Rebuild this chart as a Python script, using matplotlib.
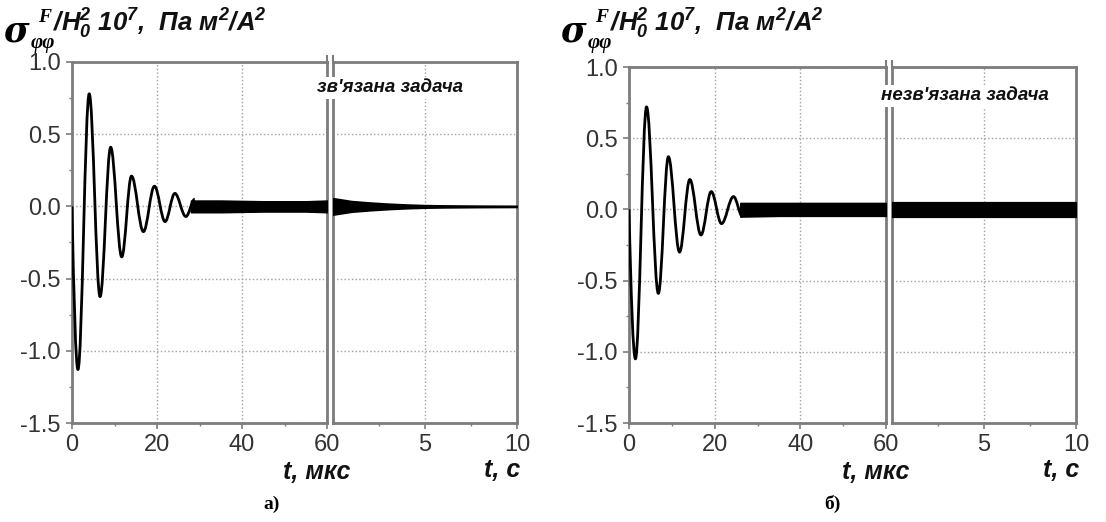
import matplotlib
matplotlib.use("Agg")
import matplotlib.pyplot as plt
from matplotlib.ticker import MultipleLocator, FixedLocator
from matplotlib.lines import Line2D
from matplotlib.path import Path
from matplotlib.patches import PathPatch

W, H = 1106, 522
plt.rcParams['font.family'] = ['Liberation Sans', 'DejaVu Sans']
plt.rcParams['axes.unicode_minus'] = False
plt.rcParams['mathtext.fontset'] = 'custom'
plt.rcParams['mathtext.rm'] = 'Liberation Sans:bold:italic'
plt.rcParams['mathtext.it'] = 'Liberation Sans:bold:italic'
plt.rcParams['mathtext.bf'] = 'Liberation Sans:bold:italic'

# ---------------- data ----------------
# panel a (coupled problem): extrema of the main oscillation, t in microseconds
t_us_a = [0.0, 1.4, 4.05, 6.6, 9.1, 11.7, 14.0, 16.8, 19.4, 21.9, 24.2, 26.8, 28.9]
v_us_a = [0.0, -1.13, 0.78, -0.625, 0.41, -0.35, 0.21, -0.175, 0.14, -0.105, 0.09, -0.07, 0.05]
# high-frequency band envelope after the decay (microseconds)
t_band_a = [28.0, 35.0, 45.0, 55.0, 60.0]
up_band_a = [0.04, 0.04, 0.035, 0.035, 0.04]
lo_band_a = [-0.04, -0.04, -0.035, -0.035, -0.04]
# long-time envelope, t in seconds
t_s_a = [0.0, 0.5, 1.0, 2.0, 3.0, 4.0, 5.0, 6.0, 8.0, 10.0]
up_s_a = [0.055, 0.045, 0.035, 0.025, 0.017, 0.011, 0.007, 0.005, 0.003, 0.002]
lo_s_a = [-0.055, -0.045, -0.035, -0.025, -0.017, -0.011, -0.007, -0.005, -0.003, -0.002]

# panel b (uncoupled problem)
t_us_b = [0.0, 1.5, 4.1, 6.85, 9.2, 11.8, 14.2, 16.8, 19.2, 21.6, 24.4, 26.5]
v_us_b = [0.0, -1.05, 0.72, -0.59, 0.37, -0.30, 0.21, -0.18, 0.125, -0.10, 0.09, -0.05]
t_band_b = [26.0, 35.0, 45.0, 55.0, 60.0]
up_band_b = [0.045, 0.045, 0.045, 0.045, 0.045]
lo_band_b = [-0.05, -0.045, -0.045, -0.045, -0.045]
t_s_b = [0.0, 10.0]
up_s_b = [0.045, 0.045]
lo_s_b = [-0.05, -0.05]

# axis ticks / labels
x_us_ticks = [0, 20, 40, 60]
x_s_ticks = [5, 10]
y_ticks = [-1.5, -1.0, -0.5, 0.0, 0.5, 1.0]
y_ticklabels = ['-1.5', '-1.0', '-0.5', '0.0', '0.5', '1.0']
notes = ["зв'язана задача", "незв'язана задача"]
panel_tags = ['а)', 'б)']
xlab_us = 't, мкс'
xlab_s = 't, с'
ylab_rest = '/H$_0^2$ 10$^7$,  Па м$^2$/А$^2$'

# ---------------- drawing ----------------
fig = plt.figure(figsize=(W / 100, H / 100), dpi=100)

SPINE = '#7c7c7c'
TXT = '#333333'
GRID = dict(color='#a0a0a0', ls=':', lw=1.0)
SERIF = ['Liberation Serif', 'DejaVu Serif']


def rect(x0, x1, y0, y1):
    return [x0 / W, 1 - y1 / H, (x1 - x0) / W, (y1 - y0) / H]


def fx(x):
    return x / W


def fy(y):
    return 1 - y / H


def style(ax):
    for s in ax.spines.values():
        s.set_color(SPINE)
        s.set_linewidth(2.0)
    ax.tick_params(which='major', direction='out', length=4, width=1.2,
                   color=SPINE, labelsize=17, labelcolor=TXT, pad=4)
    ax.tick_params(which='minor', direction='out', length=2.5, width=1.0,
                   color=SPINE)
    ax.set_ylim(-1.5, 1.0)
    ax.set_yticks(y_ticks)
    ax.yaxis.set_minor_locator(MultipleLocator(0.25))
    ax.grid(True, which='major', **GRID)
    ax.set_axisbelow(True)


def smooth_path(t, v):
    """Smooth curve through the read extrema (horizontal tangents at extrema)."""
    verts = [(t[0], v[0])]
    codes = [Path.MOVETO]
    for i in range(len(t) - 1):
        t0, v0, t1, v1 = t[i], v[i], t[i + 1], v[i + 1]
        dt = t1 - t0
        if i == 0:
            c1 = (t0 + dt * 0.3, v0 + (v1 - v0) * 0.55)
        else:
            c1 = (t0 + dt * 0.364, v0)
        c2 = (t1 - dt * 0.364, v1)
        verts += [c1, c2, (t1, v1)]
        codes += [Path.CURVE4] * 3
    return Path(verts, codes)


def panel(px_l, px_bl, px_br, px_r, py_t, py_b,
          t1, v1, tb, ub, lb, ts, us, ls, note, note_xy, tag, tag_xy):
    axL = fig.add_axes(rect(px_l, px_bl, py_t, py_b))
    axR = fig.add_axes(rect(px_br, px_r, py_t, py_b))
    for ax in (axL, axR):
        style(ax)
    axL.set_xlim(0, 60)
    axL.set_xticks(x_us_ticks)
    axL.xaxis.set_minor_locator(FixedLocator([10, 30, 50]))
    axL.set_yticklabels(y_ticklabels)
    axR.set_xlim(0, 10)
    axR.set_xticks(x_s_ticks)
    axR.xaxis.set_minor_locator(FixedLocator([2.5, 7.5]))
    axR.tick_params(axis='y', which='both', left=False, labelleft=False)

    axL.add_patch(PathPatch(smooth_path(t1, v1), facecolor='none', edgecolor='k',
                            lw=2.0, joinstyle='round', zorder=3))
    axL.fill_between(tb, lb, ub, facecolor='k', edgecolor='k', lw=1.2, zorder=3)
    axR.fill_between(ts, ls, us, facecolor='k', edgecolor='k', lw=1.6, zorder=3)

    # break marks above the top spine
    for x in (px_bl, px_br):
        fig.add_artist(Line2D([fx(x), fx(x)], [fy(py_t), fy(py_t - 6)],
                              color=SPINE, lw=1.5))

    fig.text(fx(note_xy[0]), fy(note_xy[1]), note, ha='center', va='center',
             fontsize=13.5, style='italic', weight='bold', color='#111111',
             bbox=dict(facecolor='white', edgecolor='none', pad=1.5), zorder=10)

    # y label
    x0 = px_l - 69
    fig.text(fx(x0), fy(41), 'σ', family=['DejaVu Serif'],
             style='italic', weight='bold', fontsize=25, va='baseline', color='k')
    fig.text(fx(x0 + 28), fy(48), 'φφ', family=SERIF,
             style='italic', weight='bold', fontsize=15, va='baseline', color='k')
    fig.text(fx(x0 + 35), fy(22), 'F', family=SERIF,
             style='italic', weight='bold', fontsize=14, va='baseline', color='k')
    fig.text(fx(x0 + 50), fy(32), ylab_rest, style='italic', weight='bold',
             fontsize=18.5, va='baseline', color='#111111')

    # x labels
    fig.text(fx(px_bl + 23), fy(472), xlab_us, ha='right', va='center',
             style='italic', weight='bold', fontsize=18, color='#111111')
    fig.text(fx(px_r + 3), fy(470), xlab_s, ha='right', va='center',
             style='italic', weight='bold', fontsize=18, color='#111111')
    fig.text(fx(tag_xy[0]), fy(tag_xy[1]), tag, ha='center', va='center',
             family=SERIF, weight='bold', fontsize=14, color='k')


panel(72, 327, 333, 517, 62, 423, t_us_a, v_us_a, t_band_a, up_band_a, lo_band_a,
      t_s_a, up_s_a, lo_s_a, notes[0], (390, 88), panel_tags[0], (272, 504))
panel(629, 886, 892, 1076, 67, 423, t_us_b, v_us_b, t_band_b, up_band_b, lo_band_b,
      t_s_b, up_s_b, lo_s_b, notes[1], (965, 96), panel_tags[1], (832, 504))

fig.savefig('out.png', dpi=100, facecolor='white')
